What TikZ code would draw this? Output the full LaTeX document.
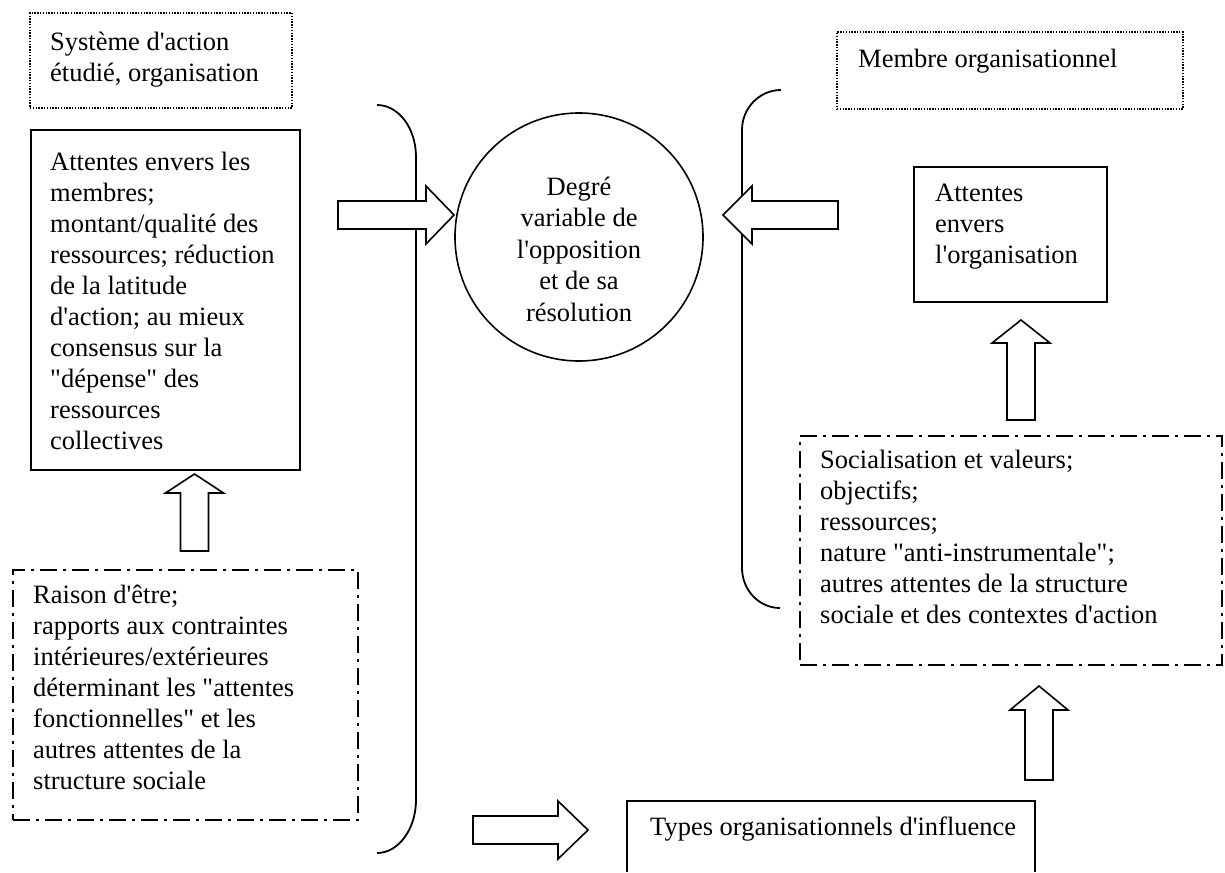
\documentclass[tikz,border=0pt]{standalone}
\usepackage{fontspec}
\newfontfamily\diagfont{Liberation Serif}
\usetikzlibrary{fit}
% stacked lines with a fixed baseline distance; the box baseline is the first line
\newcommand\leftlines[1]{\vtop{\baselineskip=31pt\lineskiplimit=-50pt\halign{##\hfil\cr#1\crcr}}}
\newcommand\centerlines[1]{\vtop{\baselineskip=31.5pt\lineskiplimit=-50pt\halign{\hfil##\hfil\cr#1\crcr}}}
\tikzset{
  frame/.style={draw, line width=1.6pt, inner sep=0pt},
  dotframe/.style={draw, line width=1.4pt, dash pattern=on 1.4pt off 1.4pt, inner sep=0pt},
  dashdotframe/.style={draw, line width=1.4pt, dash pattern=on 17pt off 6pt on 3pt off 6pt, inner sep=0pt},
  label/.style={inner sep=0pt, anchor=base west, font=\diagfont\fontsize{26.5pt}{31pt}\selectfont},
  bracket/.style={line width=1.8pt},
  pics/fatarrow/.style 2 args={code={
    \draw[line width=1.6pt, fill=white, line join=miter]
      (0,-14) -- ({#1-#2},-14) -- ({#1-#2},-29) -- (#1,0) -- ({#1-#2},29) -- ({#1-#2},14) -- (0,14) -- cycle;}}
}
\begin{document}
\begin{tikzpicture}[x=1pt, y=-1pt]
\useasboundingbox (0,0) rectangle (1225,872);

% left column: the organisation
\node[dotframe, fit={(30,13) (292,108)}] (sys) {};
\node[label] (sys-t) at (50,51) {\leftlines{Système d'action\cr étudié, organisation}};

\node[frame, fit={(31,130) (300,470)}] (orgexp) {};
\node[label] (orgexp-t) at (50,170) {\leftlines{Attentes envers les\cr membres;\cr montant/qualité des\cr ressources; réduction\cr de la latitude\cr d'action; au mieux\cr consensus sur la\cr "dépense" des\cr ressources\cr collectives}};

\node[dashdotframe, fit={(13,570) (358,820)}] (raison) {};
\node[label] (raison-t) at (33,603) {\leftlines{Raison d'être;\cr rapports aux contraintes\cr intérieures/extérieures\cr déterminant les "attentes\cr fonctionnelles" et les\cr autres attentes de la\cr structure sociale}};

% centre: the opposition
\node[circle, draw, line width=1.6pt, minimum size=248pt, inner sep=0pt] (opp) at (579,237) {};
\node[label, anchor=base] (opp-t) at (579,195) {\centerlines{Degré\cr variable de\cr l'opposition\cr et de sa\cr résolution}};

% right column: the member
\node[dotframe, fit={(837,32) (1183,109)}] (membre) {};
\node[label] (membre-t) at (858,68) {Membre organisationnel};

\node[frame, fit={(914,167) (1107,302)}] (memexp) {};
\node[label] (memexp-t) at (935,201) {\leftlines{Attentes\cr envers\cr l'organisation}};

\node[dashdotframe, fit={(800,436) (1222,665)}] (social) {};
\node[label] (social-t) at (820,468) {\leftlines{Socialisation et valeurs;\cr objectifs;\cr ressources;\cr nature "anti-instrumentale";\cr autres attentes de la structure\cr sociale et des contextes d'action}};

% bottom: influence types (box runs off the lower edge)
\coordinate (types-sw) at (627,872);
\coordinate (types-nw) at (627,801);
\coordinate (types-ne) at (1035,801);
\coordinate (types-se) at (1035,872);
\draw[line width=1.6pt] (types-sw) -- (types-nw) -- (types-ne) -- (types-se);
\node[label] (types-t) at (650,835) {Types organisationnels d'influence};

% brackets grouping each side
\draw[bracket] (377,105) .. controls (398.5,105) and (416,128) .. (416,157)
  -- (416,800) .. controls (416,829) and (398.5,853) .. (377,853);
\draw[bracket] (781,90) .. controls (759.5,90) and (742,108) .. (742,130)
  -- (742,568) .. controls (742,590) and (759,608) .. (780,608);

% block arrows
\coordinate (a-org) at (338,215);
\coordinate (a-mem) at (838,215);
\coordinate (a-types) at (473,830);
\coordinate (a-raison) at (194.5,551);
\coordinate (a-social) at (1021,420);
\coordinate (a-influ) at (1039,780);
\pic at (a-org) {fatarrow={116}{28}};
\pic[rotate=180] at (a-mem) {fatarrow={115}{29}};
\pic at (a-types) {fatarrow={115}{30}};
\pic[rotate=90] at (a-raison) {fatarrow={77}{19}};
\pic[rotate=90] at (a-social) {fatarrow={100}{23}};
\pic[rotate=90] at (a-influ) {fatarrow={94}{24}};
\end{tikzpicture}
\end{document}
